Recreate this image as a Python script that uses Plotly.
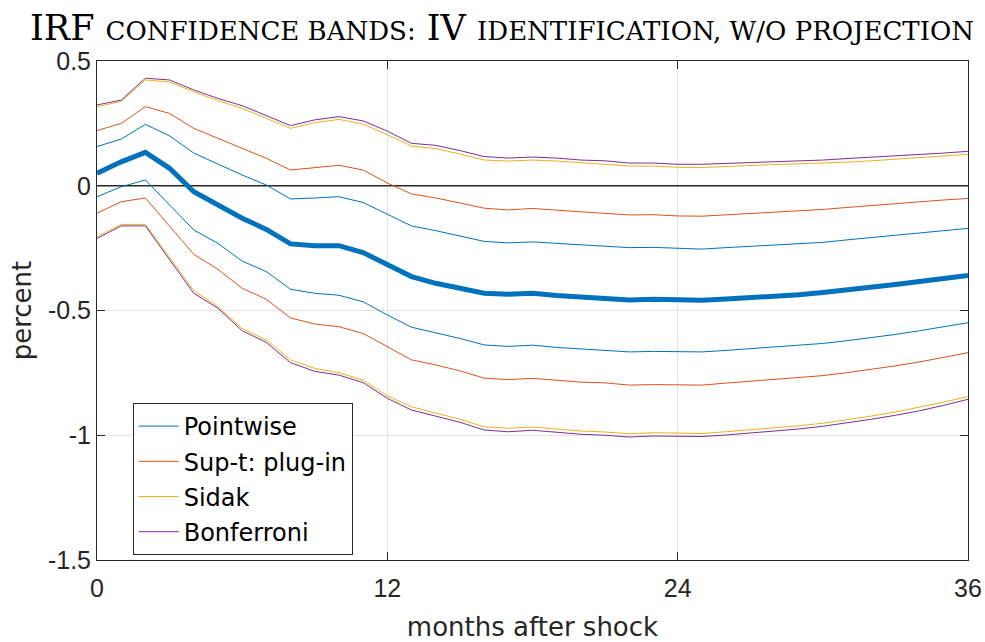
import plotly.graph_objects as go

months = list(range(37))

irf = [0.05, 0.096, 0.134, 0.07, -0.024, -0.077, -0.13, -0.175, -0.233, -0.24, -0.24, -0.268, -0.318,
       -0.364, -0.391, -0.411, -0.431, -0.435, -0.431, -0.44, -0.447, -0.45, -0.458, -0.455, -0.459,
       -0.459, -0.454, -0.449, -0.442, -0.437, -0.428, -0.419, -0.407, -0.396, -0.384, -0.373, -0.36]

pw_up = [0.157, 0.187, 0.246, 0.2, 0.131, 0.087, 0.043, 0.003, -0.053, -0.049, -0.044, -0.067, -0.114,
         -0.161, -0.18, -0.201, -0.223, -0.229, -0.225, -0.231, -0.237, -0.24, -0.248, -0.247, -0.252,
         -0.254, -0.248, -0.243, -0.237, -0.232, -0.227, -0.217, -0.207, -0.197, -0.189, -0.18, -0.171]
pw_lo = [-0.044, -0.004, 0.023, -0.077, -0.177, -0.231, -0.302, -0.344, -0.415, -0.431, -0.439, -0.465, -0.518,
         -0.567, -0.589, -0.612, -0.638, -0.644, -0.639, -0.648, -0.654, -0.659, -0.666, -0.664, -0.666,
         -0.666, -0.66, -0.653, -0.646, -0.639, -0.632, -0.621, -0.609, -0.596, -0.581, -0.565, -0.549]

st_up = [0.221, 0.25, 0.317, 0.29, 0.23, 0.19, 0.15, 0.11, 0.063, 0.074, 0.082, 0.063, 0.011,
         -0.033, -0.049, -0.069, -0.09, -0.097, -0.091, -0.098, -0.105, -0.109, -0.117, -0.116, -0.121,
         -0.122, -0.117, -0.112, -0.106, -0.101, -0.095, -0.087, -0.079, -0.071, -0.063, -0.057, -0.051]
st_lo = [-0.11, -0.064, -0.049, -0.164, -0.275, -0.335, -0.411, -0.455, -0.53, -0.554, -0.565, -0.592, -0.645,
         -0.698, -0.718, -0.742, -0.771, -0.777, -0.772, -0.78, -0.787, -0.79, -0.799, -0.797, -0.799,
         -0.799, -0.791, -0.784, -0.777, -0.769, -0.761, -0.749, -0.736, -0.722, -0.706, -0.688, -0.669]

sd_up = [0.317, 0.338, 0.424, 0.416, 0.377, 0.341, 0.31, 0.27, 0.23, 0.253, 0.266, 0.247, 0.205,
         0.159, 0.149, 0.127, 0.103, 0.099, 0.103, 0.099, 0.093, 0.088, 0.079, 0.079, 0.074,
         0.073, 0.078, 0.081, 0.085, 0.088, 0.091, 0.095, 0.1, 0.106, 0.113, 0.119, 0.126]
sd_lo = [-0.204, -0.155, -0.155, -0.285, -0.42, -0.485, -0.572, -0.618, -0.698, -0.732, -0.749, -0.779, -0.842,
         -0.886, -0.912, -0.936, -0.966, -0.972, -0.967, -0.975, -0.983, -0.987, -0.994, -0.99, -0.993,
         -0.993, -0.986, -0.979, -0.972, -0.962, -0.952, -0.939, -0.923, -0.907, -0.888, -0.867, -0.845]

bf_up = [0.324, 0.343, 0.431, 0.424, 0.384, 0.35, 0.321, 0.28, 0.241, 0.264, 0.277, 0.26, 0.219,
         0.17, 0.162, 0.141, 0.117, 0.111, 0.115, 0.111, 0.103, 0.1, 0.091, 0.091, 0.086,
         0.086, 0.089, 0.094, 0.097, 0.099, 0.103, 0.109, 0.114, 0.119, 0.125, 0.131, 0.138]
bf_lo = [-0.211, -0.161, -0.161, -0.295, -0.431, -0.491, -0.581, -0.628, -0.709, -0.744, -0.759, -0.789, -0.852,
         -0.899, -0.923, -0.948, -0.979, -0.986, -0.98, -0.988, -0.996, -1.0, -1.007, -1.003, -1.005,
         -1.005, -0.999, -0.992, -0.984, -0.975, -0.964, -0.951, -0.936, -0.92, -0.902, -0.88, -0.856]

band_names = ["Pointwise", "Sup-t: plug-in", "Sidak", "Bonferroni"]
band_colors = ["#0072BD", "#D95319", "#EDB120", "#7E2F8E"]
bands = [(pw_lo, pw_up), (st_lo, st_up), (sd_lo, sd_up), (bf_lo, bf_up)]

x_ticks = [0, 12, 24, 36]
y_ticks = [0.5, 0, -0.5, -1, -1.5]
y_tick_text = ["0.5", "0", "-0.5", "-1", "-1.5"]

fig = go.Figure()

# zero line
fig.add_trace(go.Scatter(x=[0, 36], y=[0, 0], mode="lines",
                         line=dict(color="#262626", width=1.3), showlegend=False, hoverinfo="skip"))

for name, color, (lo, up) in zip(band_names, band_colors, bands):
    fig.add_trace(go.Scatter(x=months, y=lo, mode="lines", name=name, legendgroup=name,
                             line=dict(color=color, width=1)))
    fig.add_trace(go.Scatter(x=months, y=up, mode="lines", name=name, legendgroup=name,
                             showlegend=False, line=dict(color=color, width=1)))

fig.add_trace(go.Scatter(x=months, y=irf, mode="lines", showlegend=False,
                         line=dict(color="#0072BD", width=5)))

small = 'style="font-size:26px"'
title = (f'IRF <span {small}>CONFIDENCE BANDS:</span> IV '
         f'<span {small}>IDENTIFICATION, W/O PROJECTION</span>')

fig.update_layout(
    width=985, height=642,
    margin=dict(l=97, r=17, t=61, b=82, autoexpand=False),
    paper_bgcolor="white", plot_bgcolor="white",
    font=dict(family="Liberation Sans, Arial, sans-serif", size=25, color="#262626"),
    title=dict(text=title, x=0.465, xref="paper", xanchor="center", y=0.957, yanchor="middle",
               font=dict(family="DejaVu Serif, serif", size=35, color="#000000")),
    legend=dict(x=0.041, y=0.3146, xanchor="left", yanchor="top",
                bgcolor="white", bordercolor="#262626", borderwidth=1,
                font=dict(family="DejaVu Sans, sans-serif", size=24, color="#000000"),
                tracegroupgap=1, itemwidth=40),
    showlegend=True,
)

fig.update_xaxes(range=[0, 36], tickvals=x_ticks, ticktext=[str(v) for v in x_ticks],
                 showgrid=True, gridcolor="#e3e3e3", gridwidth=1,
                 showline=True, linecolor="#262626", linewidth=1, mirror="ticks",
                 ticks="inside", ticklen=8, tickcolor="#262626",
                 zeroline=False, ticklabelstandoff=6, automargin=False,
                 title=dict(text="months after shock", standoff=20,
                            font=dict(family="DejaVu Sans, sans-serif", size=26)),
                 tickfont=dict(size=25))
fig.update_yaxes(range=[-1.5, 0.5], tickvals=y_ticks, ticktext=y_tick_text,
                 showgrid=True, gridcolor="#e3e3e3", gridwidth=1,
                 showline=True, linecolor="#262626", linewidth=1, mirror="ticks",
                 ticks="inside", ticklen=8, tickcolor="#262626",
                 zeroline=False, automargin=False,
                 title=dict(text="percent", standoff=8,
                            font=dict(family="DejaVu Sans, sans-serif", size=26)),
                 tickfont=dict(size=25))

fig.write_html("out.html")
